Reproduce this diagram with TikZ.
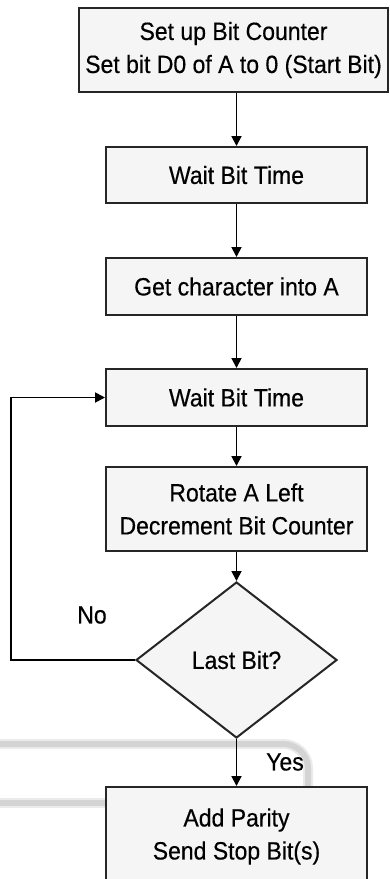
\documentclass[tikz,border=0pt]{standalone}
\usepackage{fontspec}
\setmainfont{Liberation Sans}[FakeStretch=0.92,FakeBold=0.4]
\usetikzlibrary{shapes.geometric,arrows.meta}
\definecolor{boxfill}{HTML}{F5F5F5}
\definecolor{bandgray}{HTML}{D4D4D4}
\definecolor{bandlight}{HTML}{EBEBEB}
\begin{document}
\begin{tikzpicture}[x=1pt,y=-1pt,
  font=\fontsize{25}{33}\selectfont,
  procbox/.style={draw=black!85, line width=2pt, fill=boxfill, rectangle, align=center, inner sep=0pt, minimum width=261pt},
  decbox/.style={draw=black!85, line width=2pt, fill=boxfill, diamond, inner sep=0pt, minimum width=201pt, minimum height=156pt},
  flow/.style={draw=black, line width=1.8pt, -{Triangle[length=10pt,width=10pt]}},
  band/.style={line width=6pt, draw=bandgray},
  bandedge/.style={line width=10pt, draw=bandlight}]
\useasboundingbox (0,0) rectangle (390,879);
\clip (0,0) rectangle (390,879);
\fill[white] (0,0) rectangle (390,879);
% background bands (scan artefacts)
\draw[bandedge] (0,744) -- (283,744) to[out=0,in=90] (308,768) -- (308,790);
\draw[band] (0,744) -- (283,744) to[out=0,in=90] (308,768) -- (308,790);
\draw[bandedge] (0,803) -- (108,803);
\draw[band] (0,803) -- (108,803);
% nodes
\node[procbox, minimum width=309pt, minimum height=84pt] (b1) at (233.5,50) {Set up Bit Counter\\Set bit D0 of A to 0 (Start Bit)};
\node[procbox, minimum height=56pt] (b2) at (236.5,175) {Wait Bit Time};
\node[procbox, minimum height=57pt] (b3) at (236.5,286.5) {Get character into A};
\node[procbox, minimum height=57pt] (b4) at (236.5,397.5) {Wait Bit Time};
\node[procbox, minimum height=84pt] (b5) at (236.5,509) {Rotate A Left\\Decrement Bit Counter};
\node[decbox] (d) at (236.5,660) {Last Bit?};
\node[procbox, minimum height=99pt] (b6) at (236.5,836.5) {Add Parity\\Send Stop Bit(s)};
\coordinate (lb) at (11,660);
\coordinate (lt) at (11,397.5);
% connectors
\draw[flow] (b1.south -| b2.south) -- (b2.north);
\draw[flow] (b2.south) -- (b3.north);
\draw[flow] (b3.south) -- (b4.north);
\draw[flow] (b4.south) -- (b5.north);
\draw[flow] (b5.south) -- (d.north);
\draw[flow] (d.south) -- (b6.north);
\draw[flow] (d.west) -- (lb) -- (lt) -- (b4.west);
% labels
\node (no) at (92,615) {No};
\node (yes) at (285,762) {Yes};
\end{tikzpicture}
\end{document}
